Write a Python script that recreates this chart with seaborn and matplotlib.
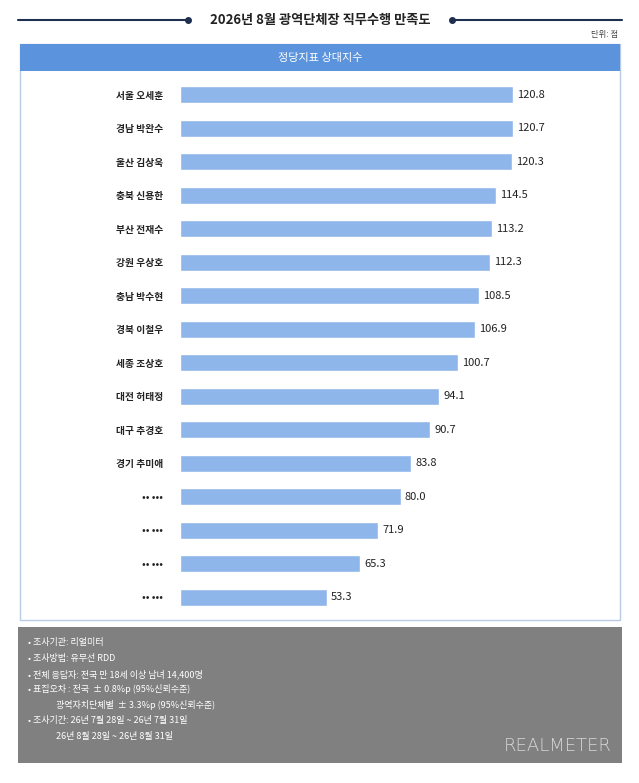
import matplotlib
matplotlib.use("Agg")
import matplotlib.pyplot as plt
import seaborn as sns
import pandas as pd
from matplotlib.patches import Rectangle

names = ['서울 오세훈', '경남 박완수', '울산 김상욱', '충북 신용한', '부산 전재수', '강원 우상호',
         '충남 박수현', '경북 이철우', '세종 조상호', '대전 허태정', '대구 추경호', '경기 추미애',
         '•• •••', '•• •••', '•• •••', '•• •••']
scores = [120.8, 120.7, 120.3, 114.5, 113.2, 112.3, 108.5, 106.9, 100.7, 94.1, 90.7, 83.8,
          80.0, 71.9, 65.3, 53.3]
notes = ['• 조사기관: 리얼미터', '• 조사방법: 유무선 RDD', '• 전체 응답자: 전국 만 18세 이상 남녀 14,400명',
         '• 표집오차 : 전국  ± 0.8%p (95%신뢰수준)', '              광역자치단체별  ± 3.3%p (95%신뢰수준)',
         '• 조사기간: 26년 7월 28일 ~ 26년 7월 31일', '              26년 8월 28일 ~ 26년 8월 31일']

sns.set_style("white")
plt.rcParams['font.family'] = ['Noto Sans CJK KR', 'DejaVu Sans']

W, H = 639, 783
fig = plt.figure(figsize=(W / 100, H / 100), dpi=100)

def fx(x): return x / W
def fy(y): return 1 - y / H

# title and decorative lines
fig.text(fx(320), fy(20), '2026년 8월 광역단체장 직무수행 만족도', ha='center', va='center',
         fontsize=9.5, fontweight='bold', color='#222222')
navy = '#1f2f4f'
fig.add_artist(plt.Line2D([fx(18), fx(188)], [fy(20), fy(20)], color=navy, lw=1.5))
fig.add_artist(plt.Line2D([fx(452), fx(622)], [fy(20), fy(20)], color=navy, lw=1.5))
fig.add_artist(plt.Line2D([fx(188)], [fy(20)], marker='o', ms=4, color=navy))
fig.add_artist(plt.Line2D([fx(452)], [fy(20)], marker='o', ms=4, color=navy))
fig.text(fx(618), fy(35), '단위: 점', ha='right', va='center', fontsize=6, color='#444444')

# panel
fig.add_artist(Rectangle((fx(20), fy(620)), fx(600), (620 - 44) / H, transform=fig.transFigure,
                         facecolor='white', edgecolor='#b8cbe6', lw=1, zorder=-2))
fig.add_artist(Rectangle((fx(20), fy(71)), fx(600), 27 / H, transform=fig.transFigure,
                         facecolor='#5b93dc', edgecolor='none', zorder=-1))
fig.text(fx(320), fy(57.5), '정당지표 상대지수', ha='center', va='center', fontsize=8, color='white')

# bars
ax = fig.add_axes([fx(180), fy(614), fx(440), (614 - 78) / H])
ax.set_zorder(5)
df = pd.DataFrame({'name': [f'{i}' for i in range(len(names))], 'score': scores})
sns.barplot(data=df, x='score', y='name', color='#8fb6ea', width=0.5, saturation=1, ax=ax)
ax.set_xlim(0, 440 / 2.757)
ax.set_yticks(range(len(names)))
ax.set_yticklabels(names, fontsize=7, fontweight='bold', color='#222222')
ax.tick_params(axis='y', length=0, pad=12)
ax.set_xticks([])
ax.set_xlabel('')
ax.set_ylabel('')
for s in ax.spines.values():
    s.set_visible(False)
ax.patch.set_alpha(0)
for i, v in enumerate(scores):
    ax.text(v + 1.5, i, f'{v:.1f}', va='center', ha='left', fontsize=8, color='#222222')

# notes box
fig.add_artist(Rectangle((fx(18), fy(763)), fx(604), (763 - 627) / H, transform=fig.transFigure,
                         facecolor='#808080', edgecolor='none', zorder=-1))
for i, t in enumerate(notes):
    fig.text(fx(28), fy(643 + i * 15.5), t, ha='left', va='center', fontsize=6.5, color='white')
fig.text(fx(612), fy(746), 'REALMETER', ha='right', va='center', fontsize=13, color='#d8d8d8',
         fontfamily='DejaVu Sans', fontweight='light')

fig.savefig('out.png', dpi=100)
